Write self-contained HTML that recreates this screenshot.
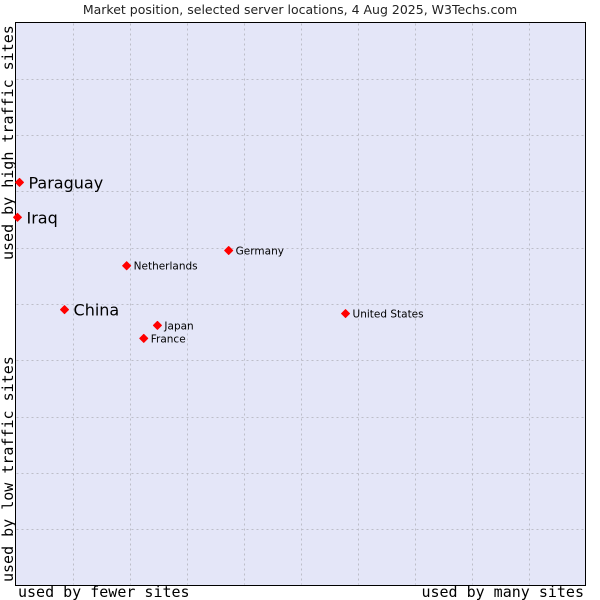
<!DOCTYPE html>
<html><head><meta charset="utf-8"><style>
body{margin:0;background:#fff;width:600px;height:600px;overflow:hidden}
svg{display:block}
</style></head><body>
<svg width="600" height="600" xmlns="http://www.w3.org/2000/svg" id="c">
<text x="300" y="14" text-anchor="middle" font-family="DejaVu Sans, sans-serif" font-size="12.5" fill="#222">Market position, selected server locations, 4 Aug 2025, W3Techs.com</text>
<rect x="15.5" y="22.5" width="570" height="563" fill="#e4e6f8" stroke="#000"/>
<g id="grid"></g>
<text x="18" y="597" font-family="DejaVu Sans Mono, monospace" font-size="15" fill="#000">used by fewer sites</text>
<text x="584" y="597" text-anchor="end" font-family="DejaVu Sans Mono, monospace" font-size="15" fill="#000">used by many sites</text>
<text transform="translate(13,260) rotate(-90)" font-family="DejaVu Sans Mono, monospace" font-size="15" fill="#000">used by high traffic sites</text>
<text transform="translate(13,582) rotate(-90)" font-family="DejaVu Sans Mono, monospace" font-size="15" fill="#000">used by low traffic sites</text>
<g id="pts"></g>
</svg>
<script>
const names=["Paraguay","Iraq","China","Netherlands","Germany","United States","Japan","France"];
const xs=[0.7,0.35,8.6,19.5,37.4,57.9,24.9,22.5];
const ys=[71.6,65.4,49.0,56.8,59.5,48.3,46.2,43.9];
const big=[1,1,1,0,0,0,0,0];
const L=15.5,R=585.5,T=22.5,B=585.5;
const sx=v=>L+v/100*(R-L), sy=v=>B-v/100*(B-T);
const NS="http://www.w3.org/2000/svg";
const g=document.getElementById('grid');
for(let i=1;i<10;i++){
 const a=document.createElementNS(NS,'line');
 
 
 const x=Math.round(sx(i*10))+0.5;
 a.setAttribute('x1',x);a.setAttribute('x2',x);a.setAttribute('y1',T+1);a.setAttribute('y2',B-1);
 a.setAttribute('stroke','#bdbdc8');a.setAttribute('stroke-dasharray','2,3');g.appendChild(a);
 const b=document.createElementNS(NS,'line');
 
 
 const y=Math.round(sy(i*10))+0.5;
 b.setAttribute('y1',y);b.setAttribute('y2',y);b.setAttribute('x1',L+1);b.setAttribute('x2',R-1);
 b.setAttribute('stroke','#bdbdc8');b.setAttribute('stroke-dasharray','2,3');g.appendChild(b);
}
const p=document.getElementById('pts');
names.forEach((n,i)=>{
 const x=sx(xs[i]),y=sy(ys[i]);
 const c=document.createElementNS(NS,'path');
 
 
 c.setAttribute('d',`M${x-4},${y} L${x},${y-4} L${x+4},${y} L${x},${y+4}Z`);
 c.setAttribute('fill','#f00');c.setAttribute('stroke','#f00');c.setAttribute('stroke-width','1');
 c.setAttribute('stroke-linejoin','round');p.appendChild(c);
 const t=document.createElementNS(NS,'text');
 
 
 t.setAttribute('x',x+(big[i]?9:7));t.setAttribute('y',y+(big[i]?6:4));
 t.setAttribute('font-family','DejaVu Sans, sans-serif');
 t.setAttribute('font-size',big[i]?'16':'10.5');t.setAttribute('fill','#000');
 t.textContent=n;p.appendChild(t);
});
</script>
</body></html>
